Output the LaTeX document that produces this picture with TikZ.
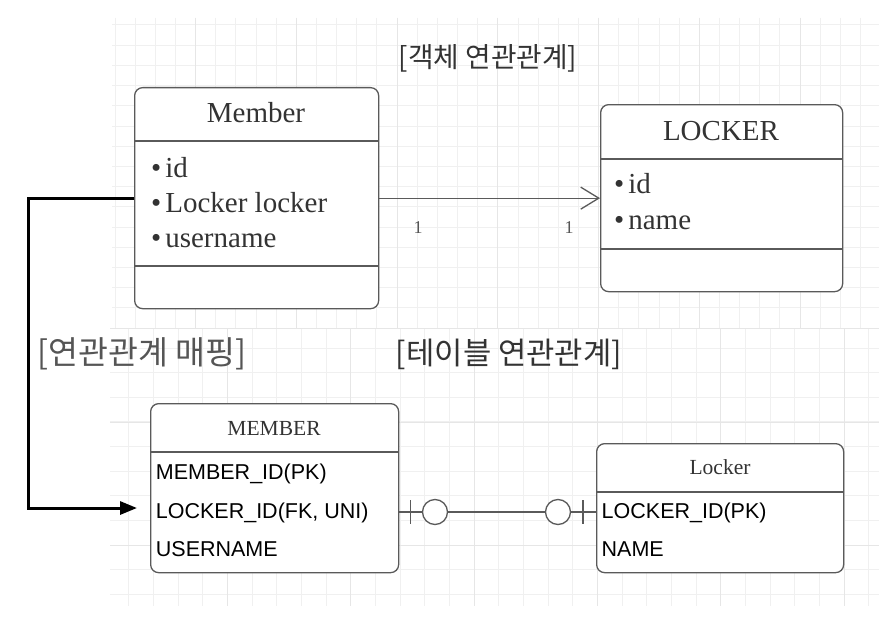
\documentclass[tikz,border=0pt]{standalone}
\usepackage{fontspec}
\setmainfont{Liberation Serif}
\newfontfamily\arialf{Liberation Sans}
\newfontfamily\krf{Noto Sans CJK KR}
\usetikzlibrary{arrows.meta}
\definecolor{boxc}{HTML}{5A5A5A}
\definecolor{txtc}{HTML}{333333}
\definecolor{lblc}{HTML}{555555}
\definecolor{gridminor}{HTML}{F0F0F0}
\definecolor{gridmajor}{HTML}{E6E6E6}
\tikzset{
  umlbox/.style={draw=boxc, line width=1.3pt, rounded corners=8pt, fill=white, inner sep=0pt, anchor=north west},
  divider/.style={draw=boxc, line width=1.3pt},
  boxtitle/.style={font=\fontsize{29}{29}\selectfont, text=txtc, inner sep=0pt, anchor=base},
  attr/.style={font=\fontsize{29}{29}\selectfont, text=txtc, inner sep=0pt, anchor=base west},
  tabtitle/.style={font=\fontsize{21.5}{21.5}\selectfont, text=txtc, inner sep=0pt, anchor=base},
  tabrow/.style={font=\arialf\fontsize{21.5}{21.5}\selectfont, text=black, inner sep=0pt, anchor=base west},
  mult/.style={font=\fontsize{18}{18}\selectfont, text=lblc, inner sep=0pt, anchor=base},
  kortitle/.style={font=\krf\fontsize{27.8}{27.8}\selectfont, text=txtc, inner sep=0pt},
  erline/.style={draw=boxc, line width=1.3pt},
  ercirc/.style={circle, draw=boxc, line width=1.3pt, fill=white, minimum size=25pt, inner sep=0pt},
  minorgrid/.style={draw=gridminor, line width=1pt},
  majorgrid/.style={draw=gridmajor, line width=1pt},
}
\begin{document}
\begin{tikzpicture}[x=1pt,y=-1pt]
\useasboundingbox[fill=white] (0,0) rectangle (892,618);

% ---------- top grid ----------
\begin{scope}
  \clip (112,18) rectangle (879,328);
  \foreach \i in {0,...,38} {\draw[minorgrid] (115+\i*20.15,18) -- (115+\i*20.15,328);}
  \foreach \i in {0,...,15} {\draw[minorgrid] (112,25+\i*20.2) -- (879,25+\i*20.2);}
  \foreach \i in {0,...,7} {\draw[majorgrid] (195.6+\i*100.75,18) -- (195.6+\i*100.75,328);}
\end{scope}
% ---------- bottom grid ----------
\begin{scope}
  \clip (110,328) rectangle (879,606);
  \foreach \i in {-1,...,30} {\draw[minorgrid] (844-\i*24.66,328) -- (844-\i*24.66,606);}
  \foreach \i in {-1,...,11} {\draw[minorgrid] (110,348+\i*24.66) -- (879,348+\i*24.66);}
  \foreach \i in {0,...,6} {\draw[majorgrid] (844-\i*123.3,328) -- (844-\i*123.3,606);}
  \foreach \i in {0,1} {\draw[majorgrid] (110,422+\i*123.3) -- (879,422+\i*123.3);}
  \draw[majorgrid] (110,328) -- (879,328);
\end{scope}

% ---------- titles ----------
\node[kortitle] (t1) at (488,58) {[객체 연관관계]};
\node[kortitle, font=\krf\fontsize{30.8}{30.8}\selectfont] (t2) at (509,354) {[테이블 연관관계]};
\node[kortitle, font=\krf\fontsize{32.5}{32.5}\selectfont, text=lblc] (t3) at (142,354) {[연관관계 매핑]};

% ---------- Member class ----------
\node[umlbox, minimum width=244pt, minimum height=221pt] (member) at (134,87) {};
\draw[divider] (134,141) -- (378,141);
\draw[divider] (134,266) -- (378,266);
\node[boxtitle] (membert) at (256,122) {Member};
\node[attr] (ma1) at (151,177) {\textbullet\hspace{4pt}id};
\node[attr] (ma2) at (151,212) {\textbullet\hspace{4pt}Locker locker};
\node[attr] (ma3) at (151,247) {\textbullet\hspace{4pt}username};

% ---------- LOCKER class ----------
\node[umlbox, minimum width=242pt, minimum height=187pt] (locker) at (600,104) {};
\draw[divider] (600,159) -- (842,159);
\draw[divider] (600,249) -- (842,249);
\node[boxtitle] (lockert) at (721,140) {LOCKER};
\node[attr] (la1) at (614,193) {\textbullet\hspace{4pt}id};
\node[attr] (la2) at (614,229) {\textbullet\hspace{4pt}name};

% association arrow
\draw[draw=boxc, line width=1.3pt, -{Straight Barb[length=18pt,width=22pt]}] (member.east) -- (locker.west);
\node[mult] (m1) at (418,233) {1};
\node[mult] (m2) at (569,233) {1};

% ---------- MEMBER table ----------
\node[umlbox, minimum width=248pt, minimum height=169pt] (mtab) at (150,403) {};
\draw[divider] (150,452) -- (398,452);
\node[tabtitle] (mtabt) at (274,435) {MEMBER};
\node[tabrow] (mr1) at (155.7,479) {MEMBER\_ID(PK)};
\node[tabrow] (mr2) at (155.7,518) {LOCKER\_ID(FK, UNI)};
\node[tabrow] (mr3) at (155.7,556) {USERNAME};

% ---------- Locker table ----------
\node[umlbox, minimum width=247pt, minimum height=129pt] (ltab) at (596,443) {};
\draw[divider] (596,492) -- (843,492);
\node[tabtitle] (ltabt) at (720,474) {Locker};
\node[tabrow] (lr1) at (601.5,518) {LOCKER\_ID(PK)};
\node[tabrow] (lr2) at (601.5,556) {NAME};

% ER relation (zero-or-one on both ends)
\coordinate (e1) at (398,512);
\coordinate (e2) at (596,512);
\draw[erline] (e1) -- (e2);
\draw[erline] (410.5,500) -- (410.5,524);
\draw[erline] (583,500) -- (583,524);
\node[ercirc] (c1) at (435,512) {};
\node[ercirc] (c2) at (558,512) {};

% mapping connector
\coordinate (corner) at (28,508);
\coordinate (tip) at (137,508);
\draw[line width=3pt, black, -{Triangle[length=17pt,width=13pt]}] (member.west) -| (corner) -- (tip);
\end{tikzpicture}
\end{document}
